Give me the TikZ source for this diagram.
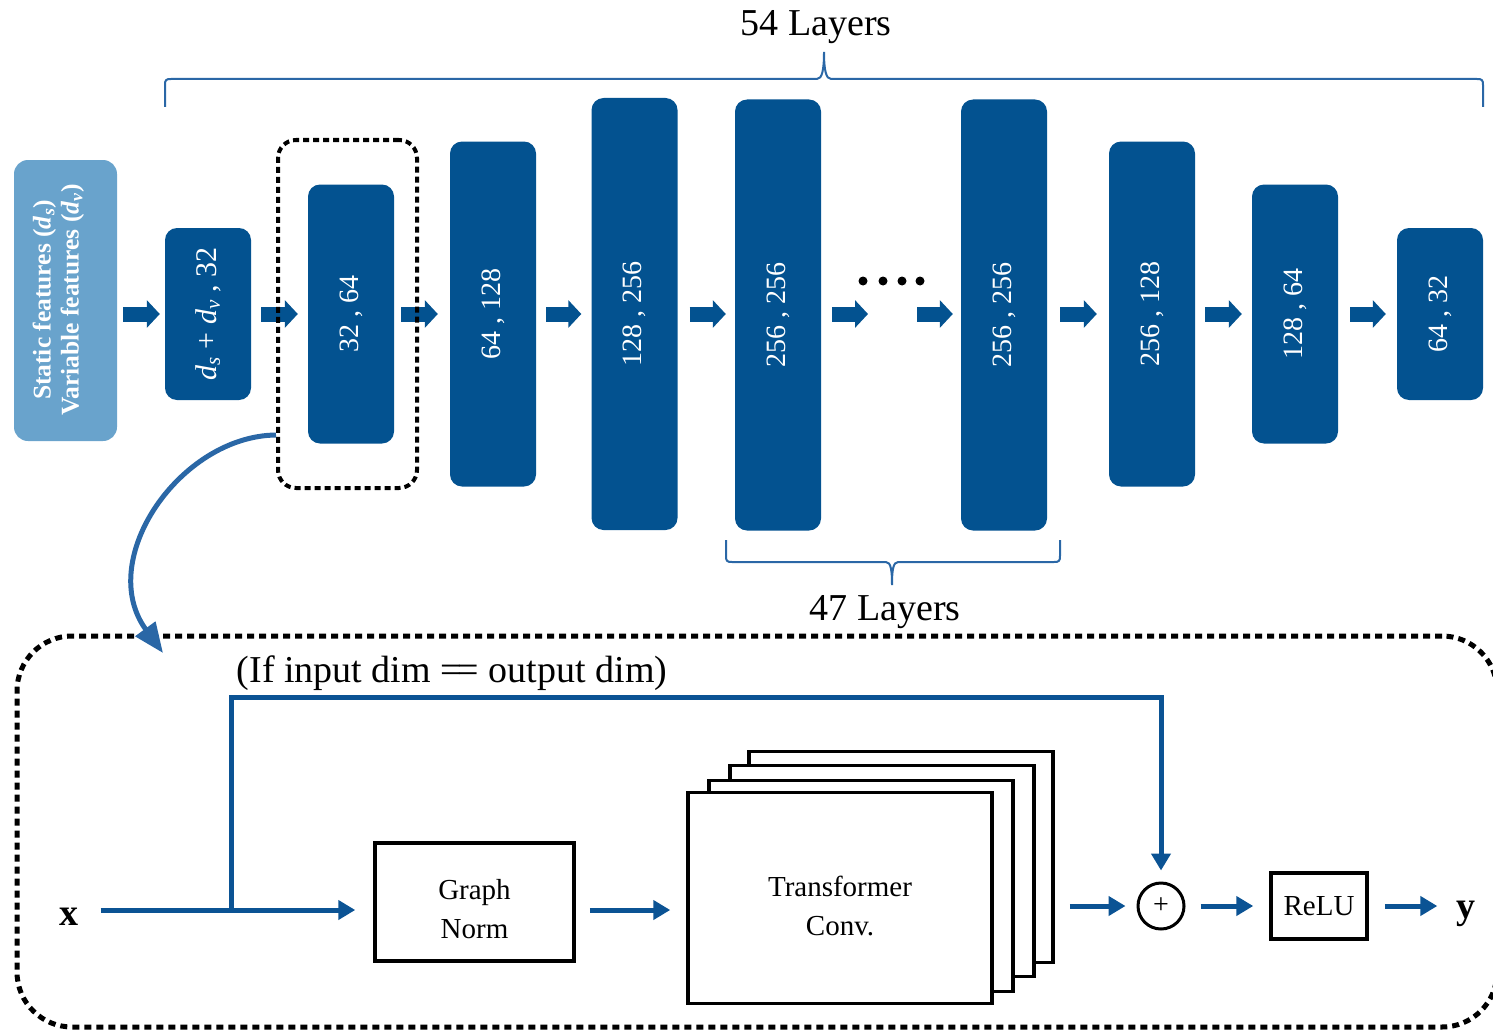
\documentclass[tikz,border=0pt]{standalone}
\usepackage{fontspec}
\setmainfont{Liberation Serif}
\usepackage{graphicx}
\usetikzlibrary{arrows.meta,calc}

\definecolor{dkblue}{HTML}{035290}
\definecolor{ltblue}{HTML}{69A3CC}
\definecolor{arblue}{HTML}{0B5394}
\definecolor{brblue}{HTML}{2A67A6}

% italic d with an italic subscript
\newcommand{\dsub}[1]{\textit{d}\textsubscript{\textit{#1}}}

\begin{document}
\begin{tikzpicture}[x=1pt,y=-1pt,
  layer/.style={fill=dkblue, rounded corners=12pt, inner sep=0pt, text=white,
                font=\fontsize{28}{32}\selectfont},
  inbox/.style={fill=ltblue, rounded corners=14pt, inner sep=0pt},
  fat/.style={draw=dkblue, line width=15pt, -{Triangle[length=13pt,width=27pt]},
              shorten <=10pt, shorten >=10pt},
  flow/.style={draw=arblue, line width=5pt, -{Triangle[length=17pt,width=19pt]}},
  blackbox/.style={draw=black, line width=3.5pt, fill=white, inner sep=0pt},
  bracepath/.style={draw=brblue, line width=2pt},
  big/.style={font=\fontsize{38}{44}\selectfont, inner sep=0pt},
  small/.style={font=\fontsize{29}{39}\selectfont, align=center},
  var/.style={font=\bfseries\fontsize{38}{44}\selectfont, inner sep=0pt},
]
\useasboundingbox (0,0) rectangle (1493,1030);

% ---------- network of layers ----------
\node[inbox, minimum width=103pt, minimum height=281pt] (b0) at (65.5,300.5) {};
\node[text=white, inner sep=0pt, font=\bfseries\fontsize{25.5}{28}\selectfont] (b0txt) at (59,300)
  {\rotatebox{90}{\begin{tabular}{@{}c@{}}Static features (\dsub{s})\\Variable features (\dsub{v})\end{tabular}}};

\node[layer, minimum width=86pt, minimum height=172pt, font=\fontsize{30}{34}\selectfont] (b1) at (208,314)
  {\rotatebox{90}{\dsub{s} + \dsub{v} , 32}};
\node[layer, minimum width=86pt, minimum height=259pt] (b2) at (351,314) {\rotatebox{90}{32 , 64}};
\node[layer, minimum width=86pt, minimum height=345pt] (b3) at (493,314) {\rotatebox{90}{64 , 128}};
\node[layer, minimum width=86pt, minimum height=432pt] (b4) at (634.5,314) {\rotatebox{90}{128 , 256}};
\node[layer, minimum width=86pt, minimum height=431pt] (b5) at (778,315) {\rotatebox{90}{256 , 256}};
\node[layer, minimum width=86pt, minimum height=431pt] (b6) at (1004,315) {\rotatebox{90}{256 , 256}};
\node[layer, minimum width=86pt, minimum height=345pt] (b7) at (1152,314) {\rotatebox{90}{256 , 128}};
\node[layer, minimum width=86pt, minimum height=259pt] (b8) at (1295,314) {\rotatebox{90}{128 , 64}};
\node[layer, minimum width=86pt, minimum height=172pt] (b9) at (1440,314) {\rotatebox{90}{64 , 32}};

% block arrows between layers
\coordinate (gap) at (892,314);
\draw[fat, shorten <=6pt, shorten >=5pt] (b0.east |- b1) -- (b1.west);
\draw[fat] (b1) -- (b2);
\draw[fat, shorten <=7pt, shorten >=12pt] (b2) -- (b3);
\draw[fat] (b3) -- (b4);
\draw[fat, shorten <=12pt, shorten >=9pt] (b4.east |- gap) -- (b5.west |- gap);
\draw[fat, shorten <=11pt, shorten >=24pt] (b5.east |- gap) -- (gap);
\draw[fat, shorten <=25pt, shorten >=8pt] (gap) -- (b6.west |- gap);
\draw[fat, shorten <=13pt, shorten >=12pt] (b6.east |- gap) -- (b7.west |- gap);
\draw[fat] (b7) -- (b8);
\draw[fat, shorten <=12pt, shorten >=11pt] (b8) -- (b9);

% ellipsis between repeated layers
\foreach \x in {863,883,902,920} \fill (\x,281) circle (4.5pt);

% highlighted layer
\node[draw=black, line width=4pt, dash pattern=on 6pt off 4pt, rounded corners=18pt,
      minimum width=139pt, minimum height=348pt, inner sep=0pt] (hl) at (347.5,314) {};

% braces
\draw[bracepath] (165,107) -- (165,85) .. controls (165,80) and (166,79) .. (171,79)
  -- (817,79) .. controls (822,79) and (824,70) .. (824,52)
  .. controls (824,70) and (826,79) .. (831,79)
  -- (1477,79) .. controls (1482,79) and (1483,80) .. (1483,85) -- (1483,107);
\node[big, anchor=base] (t54) at (816,36) {54 Layers};

\draw[bracepath] (726,540) -- (726,556) .. controls (726,561) and (727,562) .. (732,562)
  -- (886,562) .. controls (891,562) and (892,571) .. (892,585)
  .. controls (892,571) and (893,562) .. (898,562)
  -- (1054,562) .. controls (1059,562) and (1060,561) .. (1060,556) -- (1060,540);
\node[big, anchor=base] (t47) at (885,620) {47 Layers};

% ---------- detail of one layer ----------
\node[draw=black, line width=5pt, dash pattern=on 7pt off 5pt, rounded corners=55pt,
      minimum width=1480pt, minimum height=391pt, inner sep=0pt] (frame) at (757,831.5) {};

\coordinate (ctip) at (163,653);
\draw[draw=brblue, line width=5pt, -{Triangle[length=30pt,width=24pt]}]
  ([yshift=-121pt]hl.west) .. controls (180,436) and (95,560) .. (ctip);

\node[big, anchor=base] (cond) at (452,682) {(If input dim =\kern-4pt= output dim)};

\node[var, anchor=base] (xin) at (69,925) {x};
\node[blackbox, minimum width=199pt, minimum height=118pt] (gn) at (474.5,902) {};
\node[small, inner sep=0pt] (gntxt) at (474.5,909) {Graph\\Norm};

\node[blackbox, minimum width=304pt, minimum height=211pt] (tf3) at (901,857) {};
\node[blackbox, minimum width=304pt, minimum height=211pt] (tf2) at (882,871) {};
\node[blackbox, minimum width=304pt, minimum height=211pt] (tf1) at (861,886) {};
\node[blackbox, minimum width=304pt, minimum height=211pt] (tf) at (840,898) {};
\node[small, inner sep=0pt] (tftxt) at (840,906) {Transformer\\Conv.};

\node[draw=black, circle, line width=3pt, minimum size=46pt, inner sep=0pt,
      font=\fontsize{28}{30}\selectfont] (plus) at (1161,906) {+};
\node[blackbox, small, minimum width=96pt, minimum height=66pt] (relu) at (1319,906) {ReLU};
\node[var, anchor=base] (yout) at (1466,918) {y};

% connectors
\coordinate (row) at (0,910);
\coordinate (split) at (231,910);
\coordinate (sk) at (231,697);
\draw[flow, shorten <=22pt, shorten >=18pt] (xin.east |- row) -- (gn.west |- row);
\draw[flow, shorten >=11pt] (split) -- (sk) -| (plus.north);
\draw[flow, shorten <=14pt, shorten >=16pt] (gn.east |- row) -- (tf.west |- row);
\draw[flow, shorten <=15pt, shorten >=11pt] (tf3.east |- plus) -- (plus.west);
\draw[flow, shorten <=15pt, shorten >=16pt] (plus.east) -- (relu.west);
\draw[flow, shorten <=16pt, shorten >=19pt] (relu.east) -- (relu.east -| yout.west);
\end{tikzpicture}
\end{document}
